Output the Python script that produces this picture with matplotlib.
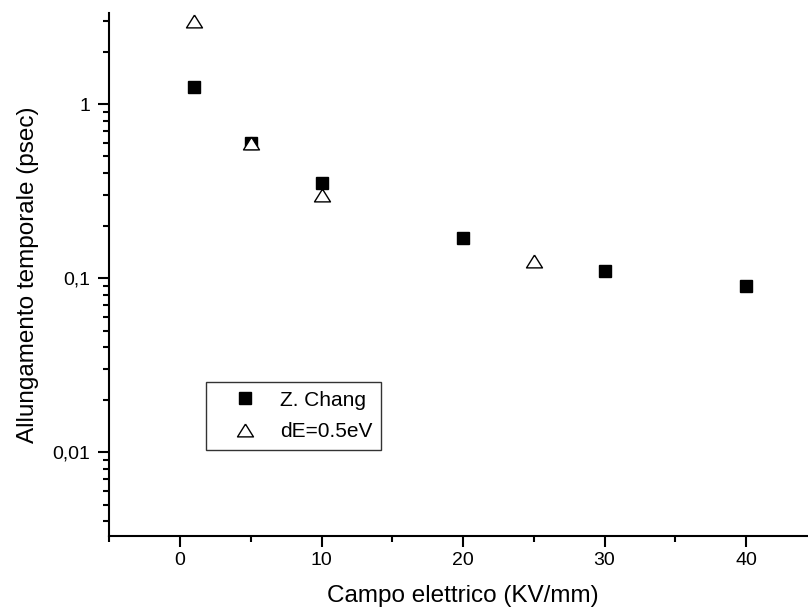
import matplotlib
matplotlib.use("AGG")
import matplotlib.pyplot as plt
from matplotlib.ticker import FixedLocator, FixedFormatter, LogLocator, NullFormatter, MultipleLocator

# Z. Chang data
chang_x = [1, 5, 10, 20, 30, 40]
chang_y = [1.25, 0.6, 0.35, 0.17, 0.11, 0.09]
# simulation dE=0.5eV
de_x = [1, 5, 10, 25]
de_y = [3.0, 0.6, 0.3, 0.125]

ytick_vals = [0.01, 0.1, 1]
ytick_labels = ["0,01", "0,1", "1"]

plt.rcParams['font.family'] = ['Liberation Sans', 'DejaVu Sans']

fig = plt.figure(figsize=(8.08, 6.15), dpi=100)
# x axis runs a little past the right edge of the picture, as in the original
ax = fig.add_axes([0.1353, 0.1285, 0.8755, 0.8508])

tri = [(0, 1), (-1.25, -1), (1.25, -1), (0, 1)]
ax.plot(chang_x, chang_y, ls='none', marker='s', ms=8.6, mfc='black', mec='black', label='Z. Chang')
ax.plot(de_x, de_y, ls='none', marker=tri, ms=11.5, mfc='white', mec='black', mew=1.0, label='dE=0.5eV')

ax.set_yscale('log')
ax.set_xlim(-5, 45)
ax.set_ylim(0.0033, 3.35)

ax.xaxis.set_major_locator(MultipleLocator(10))
ax.xaxis.set_minor_locator(MultipleLocator(5))
ax.yaxis.set_major_locator(FixedLocator(ytick_vals))
ax.yaxis.set_major_formatter(FixedFormatter(ytick_labels))
ax.yaxis.set_minor_locator(LogLocator(base=10, subs=range(2, 10)))
ax.yaxis.set_minor_formatter(NullFormatter())

for s in ['top', 'right']:
    ax.spines[s].set_visible(False)
for s in ['left', 'bottom']:
    ax.spines[s].set_linewidth(1.5)

ax.tick_params(which='major', direction='out', length=8, width=1.5, labelsize=14)
ax.tick_params(which='minor', direction='out', length=4.3, width=1.5)
ax.tick_params(axis='y', which='major', pad=5.5)
ax.tick_params(axis='x', which='major', pad=3.5)

ax.set_xlabel("Campo elettrico (KV/mm)", fontsize=17.5, va='top')
ax.xaxis.set_label_coords(0.5, -0.093)
ax.set_ylabel("Allungamento temporale (psec)", fontsize=17.5)
ax.yaxis.set_label_coords(-0.099, 0.5)

leg = ax.legend(loc='upper left', bbox_to_anchor=(0.1367, 0.2943), borderaxespad=0,
                fontsize=15, frameon=True, fancybox=False, edgecolor='black',
                handlelength=2.9, handletextpad=0.23, borderpad=0.42, labelspacing=0.58)
leg.get_frame().set_linewidth(1.0)

fig.savefig("out.png", dpi=100)
